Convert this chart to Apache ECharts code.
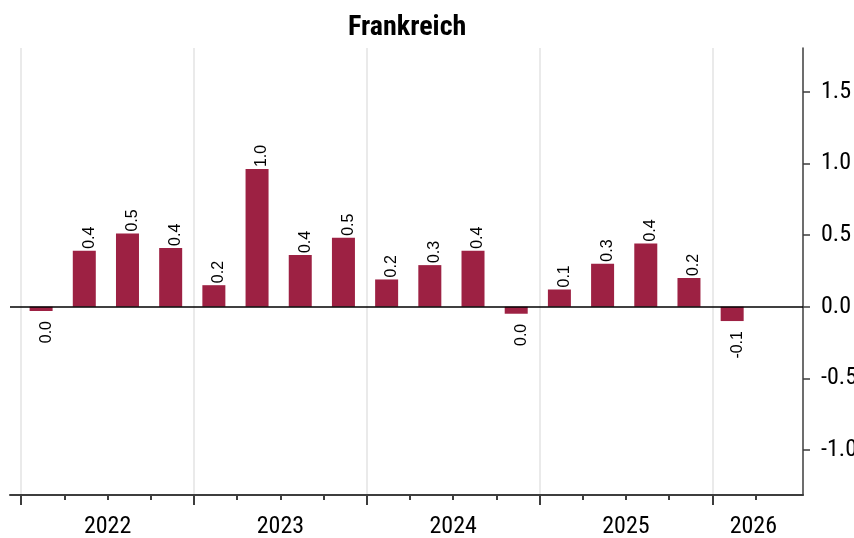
<!DOCTYPE html>
<html>
<head>
<meta charset="utf-8">
<script src="https://cdn.jsdelivr.net/npm/echarts@6/dist/echarts.min.js"></script>
<style>html,body{margin:0;padding:0;background:#fff}#c{width:854px;height:538px}</style>
</head>
<body>
<div id="c"></div>
<script>
// Quarterly values 2022 Q1 .. 2026 Q1
const quarters = ['2022 Q1','2022 Q2','2022 Q3','2022 Q4','2023 Q1','2023 Q2','2023 Q3','2023 Q4',
  '2024 Q1','2024 Q2','2024 Q3','2024 Q4','2025 Q1','2025 Q2','2025 Q3','2025 Q4','2026 Q1'];
const values = [-0.03, 0.39, 0.51, 0.41, 0.15, 0.96, 0.36, 0.48, 0.19, 0.29, 0.39, -0.049, 0.12, 0.30, 0.44, 0.20, -0.10];
const years = ['2022','2023','2024','2025','2026'];
const yearLabelPos = [2, 6, 10, 14, 16.95];
const yearTicks = [0, 4, 8, 12, 16];
const quarterTicks = [1,2,3,5,6,7,9,10,11,13,14,15,17];
const yTicks = [-1, -0.5, 0, 0.5, 1, 1.5];
const titleText = 'Frankreich';

const FONT = "'Roboto Condensed','Liberation Sans Narrow',sans-serif";
const LABEL_FONT = "'Liberation Sans',Arial,sans-serif";
const barColor = '#9d2143';
const axisColor = '#3d3d3d';

function fmt(v){ const r = Math.round(v*10)/10; return (r === 0 ? 0 : r).toFixed(1); }

// measure title to centre it over the plot area
const mc = document.createElement('canvas').getContext('2d');
mc.font = "bold 28px " + FONT;
const titleW = mc.measureText(titleText).width;

const data = values.map((v, i) => {
  const item = { value: [i + 0.46, v] };
  if (v < 0) {
    item.label = { position: 'bottom', align: 'right', distance: 10 };
  }
  return item;
});

const chart = echarts.init(document.getElementById('c'), null, {renderer: 'canvas'});
chart.setOption({
  animation: false,
  title: {
    text: titleText, left: Math.round(407 - titleW / 2), top: 14, padding: 0,
    textStyle: { fontFamily: FONT, fontWeight: 'bold', fontSize: 28, color: '#000' }
  },
  grid: { left: 10, right: 51, top: 48, bottom: 43, containLabel: false, outerBoundsMode: 'none' },
  xAxis: [{
    type: 'value', min: -0.26, max: 18.1, position: 'bottom',
    axisLine: { show: true, onZero: false, lineStyle: { color: axisColor, width: 2 } },
    axisTick: { show: true, customValues: yearTicks, length: 10, lineStyle: { color: axisColor, width: 2 } },
    axisLabel: { show: true, customValues: yearLabelPos, margin: 20, fontFamily: FONT, fontSize: 24, color: '#000',
      formatter: v => { const k = yearLabelPos.findIndex(p => Math.abs(p - v) < 1e-6); return k >= 0 ? years[k] : ''; } },
    splitLine: { show: true, lineStyle: { color: '#e3e3e3', width: 1.5 } }
  }, {
    type: 'value', min: -0.26, max: 18.1, position: 'bottom',
    axisLine: { show: false, onZero: false },
    axisTick: { show: true, customValues: quarterTicks, length: 5, lineStyle: { color: axisColor, width: 2 } },
    axisLabel: { show: false },
    splitLine: { show: false }
  }],
  yAxis: {
    type: 'value', position: 'right', min: -1.313, max: 1.804,
    axisLine: { show: true, onZero: false, lineStyle: { color: axisColor, width: 1.5 } },
    axisTick: { show: true, customValues: yTicks, length: 7, lineStyle: { color: axisColor, width: 1.5 } },
    axisLabel: { show: true, customValues: yTicks, margin: 18, fontFamily: FONT, fontSize: 24, color: '#000',
      formatter: v => v.toFixed(1) },
    splitLine: { show: false }
  },
  series: [{
    type: 'bar', xAxisIndex: 0, yAxisIndex: 0, barWidth: 23,
    itemStyle: { color: barColor },
    data: data,
    label: {
      show: true, position: 'top', rotate: 90, align: 'left', verticalAlign: 'middle', distance: 2,
      offset: [0, 5],
      fontFamily: LABEL_FONT, fontSize: 16, color: '#000',
      formatter: p => fmt(p.value[1])
    },
    markLine: {
      silent: true, symbol: 'none', label: { show: false },
      lineStyle: { color: '#000', width: 1.5, type: 'solid' },
      data: [{ yAxis: 0 }]
    }
  }]
});
</script>
</body>
</html>
